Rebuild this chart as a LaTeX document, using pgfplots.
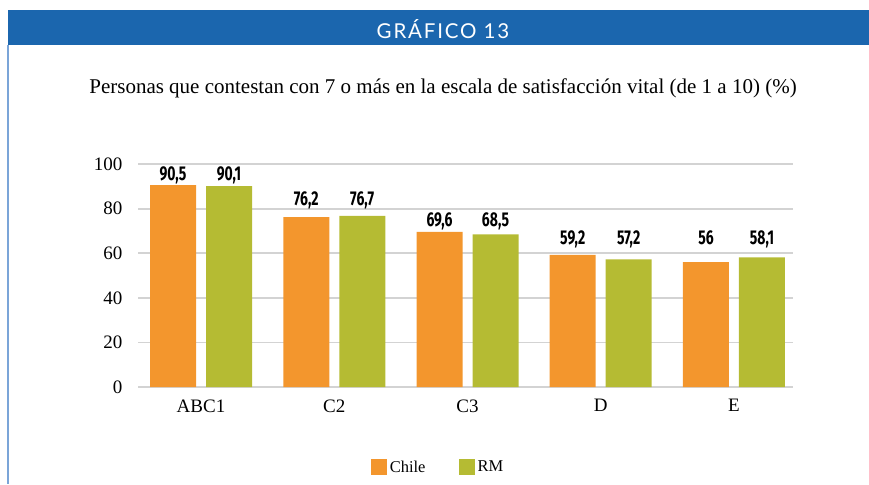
\documentclass[border=0pt]{standalone}
\usepackage{pgfplots}
\pgfplotsset{compat=1.18}
\usepackage{fontspec}
\setmainfont{Liberation Serif}
\newfontfamily\headfont[LetterSpace=9]{Lato}
\newfontfamily\lblfont[FakeStretch=0.7]{Fira Sans}
\definecolor{hdrblue}{HTML}{1B66AE}
\definecolor{bordblue}{HTML}{7BA5D8}
\definecolor{corange}{HTML}{F3962D}
\definecolor{cgreen}{HTML}{B5BB33}
\definecolor{gridgray}{HTML}{D3D3D3}
\begin{document}
\begin{tikzpicture}
\path (0pt,0pt) rectangle (869pt,-484pt);
\fill[hdrblue] (8pt,-10pt) rectangle (869pt,-45pt);
\draw[bordblue, line width=1.5pt] (8pt,-45pt) -- (8pt,-484pt);
\node[text=white, font=\headfont\fontsize{20.5}{22}\selectfont] at (443pt,-29pt) {GRÁFICO 13};
\node[font=\fontsize{21}{24}\selectfont] at (443pt,-88pt) {Personas que contestan con 7 o más en la escala de satisfacción vital (de 1 a 10) (\%)};
\begin{axis}[
  at={(138pt,-387pt)}, anchor=south west,
  scale only axis, width=655pt, height=223pt,
  xmin=-0.473, xmax=4.443, ymin=0, ymax=100,
  axis line style={draw=none},
  ytick={0,20,...,100},
  ymajorgrids, grid style={gridgray, line width=1.8pt},
  major tick length=0pt,
  xtick={0,1,2,3,4},
  xticklabels={ABC1,C2,C3,D,E},
  tick label style={font=\fontsize{19}{21}\selectfont},
  yticklabel style={xshift=-12pt},
  xticklabel style={yshift=-9pt},
  /pgf/number format/assume math mode=true,
  ybar, bar width=46pt,
  visualization depends on={\thisrow{ly}-\thisrow{y} \as \dy},
  nodes near coords={\pgfmathprintnumber[use comma,fixed,precision=1,assume math mode=true]{\pgfplotspointmeta}},
  nodes near coords style={font=\lblfont\bfseries\fontsize{20}{22}\selectfont, anchor=base, yshift=\dy*2.23pt},
  legend style={at={(rel axis cs:0.458,-0.359)}, anchor=center, draw=none, fill=none,
    legend columns=2, font=\fontsize{16.5}{19}\selectfont,
    /tikz/every odd column/.append style={column sep=1pt},
    /tikz/every even column/.append style={column sep=31pt}},
  legend image code/.code={\fill[#1] (0pt,-8pt) rectangle (16pt,8pt);},
  clip=false,
]
\addplot[fill=corange, draw=none, bar shift=-28pt] table[x=x,y=y] {
x y ly
0 90.5 92.5
1 76.2 81.2
2 69.6 72.2
3 59.2 63.7
4 56 63.7
};
\addplot[fill=cgreen, draw=none, bar shift=28pt] table[x=x,y=y] {
x y ly
0 90.1 92.5
1 76.7 81.2
2 68.5 72.2
3 57.2 63.7
4 58.1 63.7
};
\legend{Chile,RM}
\end{axis}
\end{tikzpicture}
\end{document}
